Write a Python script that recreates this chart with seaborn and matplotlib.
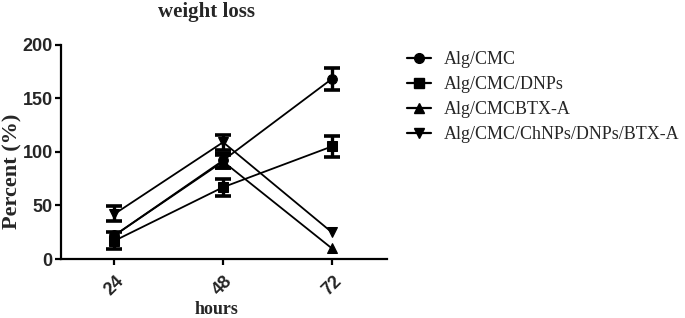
import numpy as np
import pandas as pd
import matplotlib
matplotlib.use("Agg")
import matplotlib.pyplot as plt
from matplotlib.lines import Line2D
import seaborn as sns

hours = [24, 48, 72]
series = ["Alg/CMC", "Alg/CMC/DNPs", "Alg/CMCBTX-A", "Alg/CMC/ChNPs/DNPs/BTX-A"]
alg_cmc = [22, 92, 168]
alg_cmc_err = [0, 7, 10]
alg_cmc_dnps = [17, 67, 105]
alg_cmc_dnps_err = [8, 8, 10]
alg_cmc_btx = [22, 91, 10]
alg_cmc_btx_err = [0, 6, 0]
alg_all = [42, 109, 25]
alg_all_err = [7, 7, 0]
y_ticks = [0, 50, 100, 150, 200]

values = [alg_cmc, alg_cmc_dnps, alg_cmc_btx, alg_all]
errors = [alg_cmc_err, alg_cmc_dnps_err, alg_cmc_btx_err, alg_all_err]
markers = ["o", "s", "^", "v"]

rows = []
for s, vals in zip(series, values):
    for h, v in zip(hours, vals):
        rows.append({"hours": h, "value": v, "series": s})
df = pd.DataFrame(rows)

sns.set_theme(style="ticks")
plt.rcParams["font.family"] = ["Liberation Serif", "DejaVu Serif"]

fig = plt.figure(figsize=(6.85, 3.18), dpi=100)
ax = fig.add_axes([61/685, 1 - 259/318, (387-61)/685, (259-44.7)/318])

sns.lineplot(data=df, x="hours", y="value", hue="series", style="series",
             palette=["black"]*4, markers=dict(zip(series, markers)), dashes=False,
             markersize=7, linewidth=1.3, markeredgecolor="black", legend=False, ax=ax)

for vals, errs in zip(values, errors):
    v = np.array(vals, dtype=float)
    e = np.array(errs, dtype=float)
    mask = e > 0
    ax.errorbar(np.array(hours)[mask], v[mask], yerr=e[mask], fmt="none", ecolor="black",
                elinewidth=2.4, capsize=6, capthick=2.6)

ax.set_xlim(12.2, 84.2)
ax.set_ylim(0, 200)
ax.set_xticks(hours)
ax.set_yticks(y_ticks)
ax.set_xticklabels([str(h) for h in hours], rotation=45, ha="center",
                   fontfamily="Liberation Sans", fontweight="bold", fontsize=13)
ax.set_yticklabels([str(t) for t in y_ticks],
                   fontfamily="Liberation Sans", fontweight="bold", fontsize=13)
for sp in ["top", "right"]:
    ax.spines[sp].set_visible(False)
for sp in ["left", "bottom"]:
    ax.spines[sp].set_linewidth(1.6)
    ax.spines[sp].set_color("black")
ax.tick_params(axis="both", width=1.6, length=4.5, color="black")
ax.tick_params(axis="x", pad=5)
ax.tick_params(axis="y", pad=1.5)

ax.set_xlabel("")
ax.set_ylabel("")
fig.text(216.5/685, 1 - 310/318, "hours", fontsize=13, fontweight="bold",
         ha="center", va="center")
fig.text(12/685, 1 - 171.5/318, "Percent (%)", fontsize=16, fontweight="bold",
         ha="center", va="center", rotation=90)
fig.text(206/685, 1 - 12/318, "weight loss", fontsize=15, fontweight="bold",
         ha="center", va="center")

handles = [Line2D([], [], color="black", marker=m, markersize=7, linewidth=1.6)
           for m in markers]
fig.legend(handles, series, loc="upper left", bbox_to_anchor=(407/685, 1 - 51/318),
           frameon=False, fontsize=13, handlelength=1.35, handletextpad=0.7,
           borderpad=0, borderaxespad=0, labelspacing=0.45)

fig.savefig("out.png", dpi=100)
